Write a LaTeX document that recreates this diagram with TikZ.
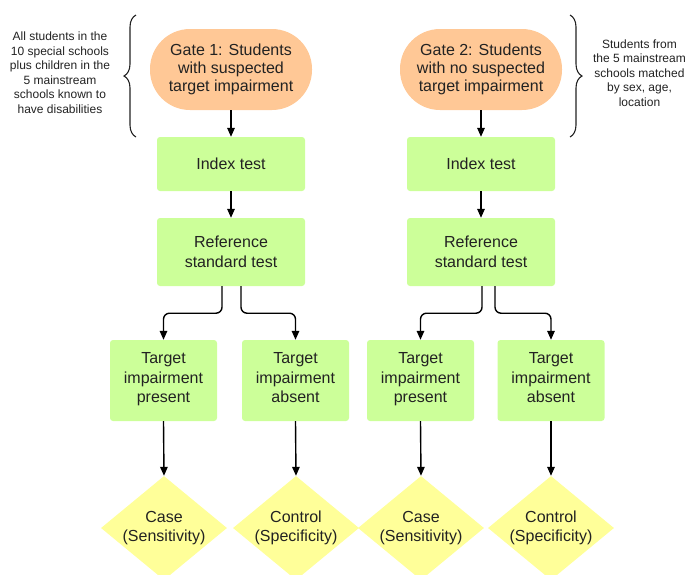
\documentclass[tikz,border=0pt]{standalone}
\usepackage{fontspec}
\setmainfont{Liberation Sans}
\usetikzlibrary{shapes.geometric,arrows.meta,decorations.pathreplacing}
\definecolor{gateorange}{RGB}{255,200,150}
\definecolor{boxgreen}{RGB}{204,255,153}
\definecolor{diayellow}{RGB}{255,255,153}
\definecolor{inkgray}{RGB}{34,34,34}
\begin{document}
\begin{tikzpicture}[x=1pt,y=-1pt,
  every node/.style={text=inkgray},
  gate/.style={rectangle, rounded corners=40pt, fill=gateorange, minimum width=162pt, minimum height=81pt,
    align=center, inner sep=0pt, font=\fontsize{16}{18}\selectfont},
  stepbox/.style={rectangle, rounded corners=3pt, fill=boxgreen, minimum width=148pt,
    align=center, inner sep=0pt, font=\fontsize{16}{20}\selectfont},
  outcome/.style={rectangle, rounded corners=3pt, fill=boxgreen, minimum width=107pt, minimum height=81pt,
    align=center, inner sep=0pt, font=\fontsize{16}{19.5}\selectfont,
    execute at begin node=\strut, execute at end node=\strut},
  dia/.style={diamond, fill=diayellow, minimum width=126pt, minimum height=104pt, inner sep=0pt},
  dialabel/.style={align=center, font=\fontsize{16}{19}\selectfont},
  note/.style={align=center, font=\fontsize{12}{14.5}\selectfont},
  arr/.style={draw=black, line width=1.4pt, -{Triangle[length=9pt,width=7.5pt]}},
  bracket/.style={draw=inkgray, line width=1.1pt, decorate, decoration={brace, amplitude=12pt}}
]
\useasboundingbox (0,0) rectangle (686,574);
\clip (0,0) rectangle (686,574);

% first arm
\node[gate] (g1) at (231,69.5) {Gate 1: Students\\with suspected\\target impairment};
\node[stepbox, minimum height=54pt] (i1) at (231,164) {Index test};
\node[stepbox, minimum height=68pt] (r1) at (231,252) {Reference\\standard test};
\node[outcome] (p1) at (163.5,380.5) {Target\\impairment\\present};
\node[outcome] (a1) at (295.5,380.5) {Target\\impairment\\absent};
\node[dia] (c1) at (164,528) {};
\node[dialabel] at (c1) {Case\\(Sensitivity)};
\node[dia] (s1) at (296,528) {};
\node[dialabel] at (s1) {Control\\(Specificity)};

% second arm
\node[gate] (g2) at (481,69.5) {Gate 2: Students\\with no suspected\\target impairment};
\node[stepbox, minimum height=54pt] (i2) at (481,164) {Index test};
\node[stepbox, minimum height=68pt] (r2) at (481,252) {Reference\\standard test};
\node[outcome] (p2) at (420.5,380.5) {Target\\impairment\\present};
\node[outcome] (a2) at (551,380.5) {Target\\impairment\\absent};
\node[dia] (c2) at (421,528) {};
\node[dialabel] at (c2) {Case\\(Sensitivity)};
\node[dia] (s2) at (551,528) {};
\node[dialabel] at (s2) {Control\\(Specificity)};

% side notes with braces
\node[note] (n1) at (60,72.5) {All students in the\\10 special schools\\plus children in the\\5 mainstream\\schools known to\\have disabilities};
\node[note] (n2) at (639.5,73) {Students from\\the 5 mainstream\\schools matched\\by sex, age,\\location};
\coordinate (b1a) at (136,137);
\coordinate (b1b) at (136,15);
\coordinate (b2a) at (570,15);
\coordinate (b2b) at (570,137);
\draw[bracket] (b1a) -- (b1b);
\draw[bracket] (b2a) -- (b2b);

% connectors
\draw[arr] (g1) -- (i1);
\draw[arr] (i1) -- (r1);
\draw[arr, rounded corners=6pt] ([xshift=-9pt]r1.south) -- ++(0,27) -| (p1.north);
\draw[arr, rounded corners=6pt] ([xshift=10pt]r1.south) -- ++(0,27) -| (a1.north);
\draw[arr] (p1.south) -- (c1.north);
\draw[arr] (a1.south) -- (s1.north);

\draw[arr] (g2) -- (i2);
\draw[arr] (i2) -- (r2);
\draw[arr, rounded corners=6pt] ([xshift=1pt]r2.south) -- ++(0,27) -| (p2.north);
\draw[arr, rounded corners=6pt] ([xshift=14pt]r2.south) -- ++(0,27) -| (a2.north);
\draw[arr] (p2.south) -- (c2.north);
\draw[arr] (a2.south) -- (s2.north);
\end{tikzpicture}
\end{document}
